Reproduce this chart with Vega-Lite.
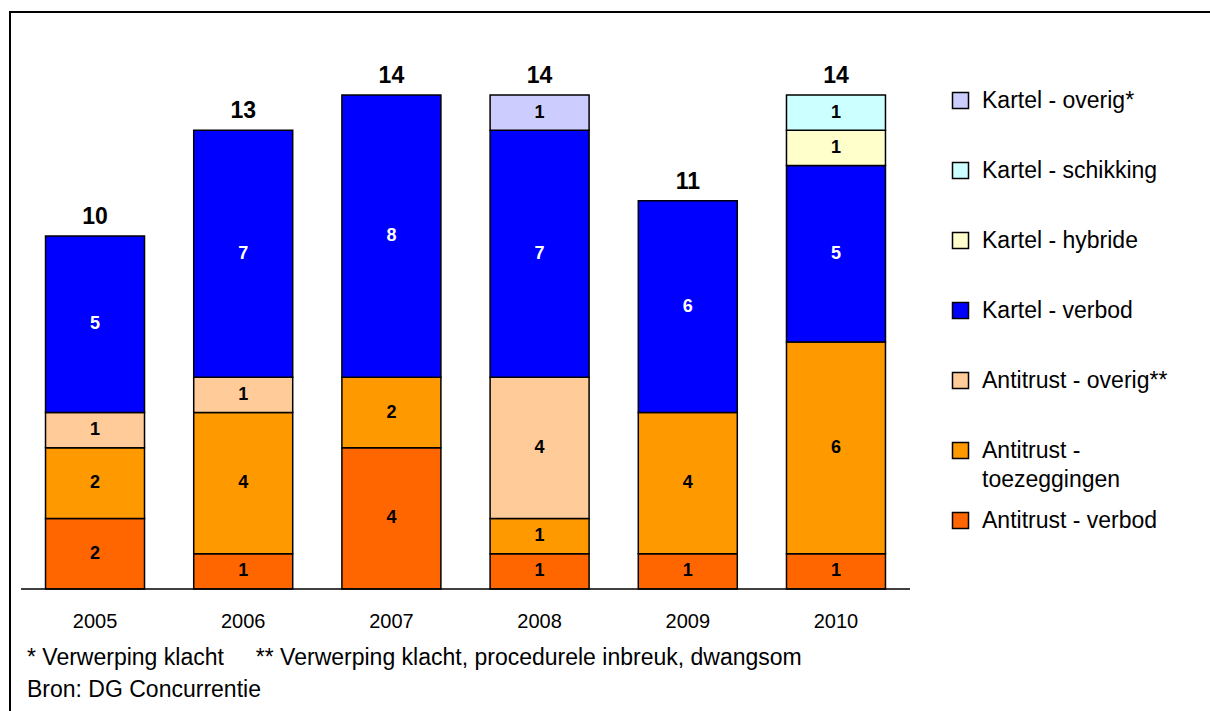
{
  "$schema": "https://vega.github.io/schema/vega-lite/v6.json",
  "width": 1200,
  "height": 699,
  "autosize": {"type": "none"},
  "padding": {"left": 10, "top": 12, "right": 0, "bottom": 0},
  "background": "white",
  "config": {
    "font": "Liberation Sans",
    "view": {"stroke": "black", "strokeWidth": 2, "strokeDash": [1200, 1899, 699, 5]}
  },
  "title": {
    "text": ["* Verwerping klacht\u00a0\u00a0\u00a0\u00a0 ** Verwerping klacht, procedurele inbreuk, dwangsom", "Bron: DG Concurrentie"],
    "orient": "bottom",
    "anchor": "start",
    "frame": "group",
    "offset": -64,
    "dx": 17,
    "fontSize": 23,
    "fontWeight": "normal",
    "lineHeight": 32,
    "color": "black",
    "font": "Liberation Sans"
  },
  "data": {
    "values": [
      {"year": "2005", "cat": "Antitrust - verbod", "value": 2, "order": 1},
      {"year": "2005", "cat": "Antitrust - toezeggingen", "value": 2, "order": 2},
      {"year": "2005", "cat": "Antitrust - overig**", "value": 1, "order": 3},
      {"year": "2005", "cat": "Kartel - verbod", "value": 5, "order": 4},
      {"year": "2006", "cat": "Antitrust - verbod", "value": 1, "order": 1},
      {"year": "2006", "cat": "Antitrust - toezeggingen", "value": 4, "order": 2},
      {"year": "2006", "cat": "Antitrust - overig**", "value": 1, "order": 3},
      {"year": "2006", "cat": "Kartel - verbod", "value": 7, "order": 4},
      {"year": "2007", "cat": "Antitrust - verbod", "value": 4, "order": 1},
      {"year": "2007", "cat": "Antitrust - toezeggingen", "value": 2, "order": 2},
      {"year": "2007", "cat": "Kartel - verbod", "value": 8, "order": 4},
      {"year": "2008", "cat": "Antitrust - verbod", "value": 1, "order": 1},
      {"year": "2008", "cat": "Antitrust - toezeggingen", "value": 1, "order": 2},
      {"year": "2008", "cat": "Antitrust - overig**", "value": 4, "order": 3},
      {"year": "2008", "cat": "Kartel - verbod", "value": 7, "order": 4},
      {"year": "2008", "cat": "Kartel - overig*", "value": 1, "order": 7},
      {"year": "2009", "cat": "Antitrust - verbod", "value": 1, "order": 1},
      {"year": "2009", "cat": "Antitrust - toezeggingen", "value": 4, "order": 2},
      {"year": "2009", "cat": "Kartel - verbod", "value": 6, "order": 4},
      {"year": "2010", "cat": "Antitrust - verbod", "value": 1, "order": 1},
      {"year": "2010", "cat": "Antitrust - toezeggingen", "value": 6, "order": 2},
      {"year": "2010", "cat": "Kartel - verbod", "value": 5, "order": 4},
      {"year": "2010", "cat": "Kartel - hybride", "value": 1, "order": 5},
      {"year": "2010", "cat": "Kartel - schikking", "value": 1, "order": 6}
    ]
  },
  "encoding": {
    "x": {
      "field": "year",
      "type": "ordinal",
      "scale": {"range": [11, 900], "paddingInner": 0.332, "paddingOuter": 0.1655, "align": 0.5},
      "axis": {
        "title": null,
        "orient": "bottom",
        "offset": -122,
        "domain": false,
        "ticks": false,
        "tickSize": 0,
        "labelPadding": 22,
        "labelFontSize": 20,
        "labelColor": "black",
        "labelFont": "Liberation Sans",
        "labelAngle": 0
      }
    }
  },
  "layer": [
    {
      "transform": [
        {"stack": "value", "groupby": ["year"], "sort": [{"field": "order", "order": "ascending"}], "as": ["y0", "y1"]}
      ],
      "mark": {"type": "bar", "stroke": "black", "strokeWidth": 1.5},
      "encoding": {
        "y": {"field": "y0", "type": "quantitative", "scale": {"domain": [-3.457, 16.35], "nice": false, "zero": false}, "axis": null},
        "y2": {"field": "y1"},
        "color": {
          "field": "cat",
          "type": "nominal",
          "scale": {
            "domain": ["Kartel - overig*", "Kartel - schikking", "Kartel - hybride", "Kartel - verbod", "Antitrust - overig**", "Antitrust - toezeggingen", "Antitrust - verbod"],
            "range": ["#CCCCFF", "#CCFFFF", "#FFFFCC", "#0000FF", "#FFCC99", "#FF9900", "#FF6600"]
          },
          "legend": {
            "orient": "none",
            "legendX": 939,
            "legendY": 77,
            "title": null,
            "padding": 0,
            "symbolType": "square",
            "symbolSize": 256,
            "symbolStrokeColor": "black",
            "symbolStrokeWidth": 1.5,
            "symbolOpacity": 1,
            "labelFontSize": 23,
            "labelFont": "Liberation Sans",
            "labelColor": "black",
            "labelOffset": 10,
            "labelLimit": 300,
            "labelBaseline": "middle",
            "rowPadding": 17,
            "labelExpr": "datum.label == 'Antitrust - toezeggingen' ? ['Antitrust -', 'toezeggingen'] : [datum.label, ' ']",
            "encode": {
              "labels": {"update": {"lineHeight": {"value": 29}}}
            }
          }
        }
      }
    },
    {
      "transform": [
        {"stack": "value", "groupby": ["year"], "sort": [{"field": "order", "order": "ascending"}], "as": ["y0", "y1"]},
        {"calculate": "(datum.y0 + datum.y1) / 2", "as": "mid"}
      ],
      "mark": {"type": "text", "fontSize": 18, "fontWeight": "bold", "baseline": "middle", "font": "Liberation Sans"},
      "encoding": {
        "y": {"field": "mid", "type": "quantitative", "scale": {"domain": [-3.457, 16.35], "nice": false, "zero": false}},
        "text": {"field": "value", "type": "quantitative"},
        "color": {"condition": {"test": "datum.cat == 'Kartel - verbod'", "value": "white"}, "value": "black"}
      }
    },
    {
      "mark": {"type": "text", "fontSize": 23, "fontWeight": "bold", "baseline": "alphabetic", "dy": -12, "color": "black", "font": "Liberation Sans"},
      "encoding": {
        "y": {"aggregate": "sum", "field": "value", "type": "quantitative", "scale": {"domain": [-3.457, 16.35], "nice": false, "zero": false}},
        "text": {"aggregate": "sum", "field": "value", "type": "quantitative"}
      }
    },
    {
      "data": {"values": [{"k": 1}]},
      "mark": {"type": "rule", "color": "black", "strokeWidth": 1.5, "xOffset": -74, "x2Offset": 74},
      "encoding": {
        "x": {"datum": "2005", "type": "ordinal"},
        "x2": {"datum": "2010"},
        "y": {"datum": 0, "type": "quantitative", "scale": {"domain": [-3.457, 16.35], "nice": false, "zero": false}}
      }
    }
  ]
}
